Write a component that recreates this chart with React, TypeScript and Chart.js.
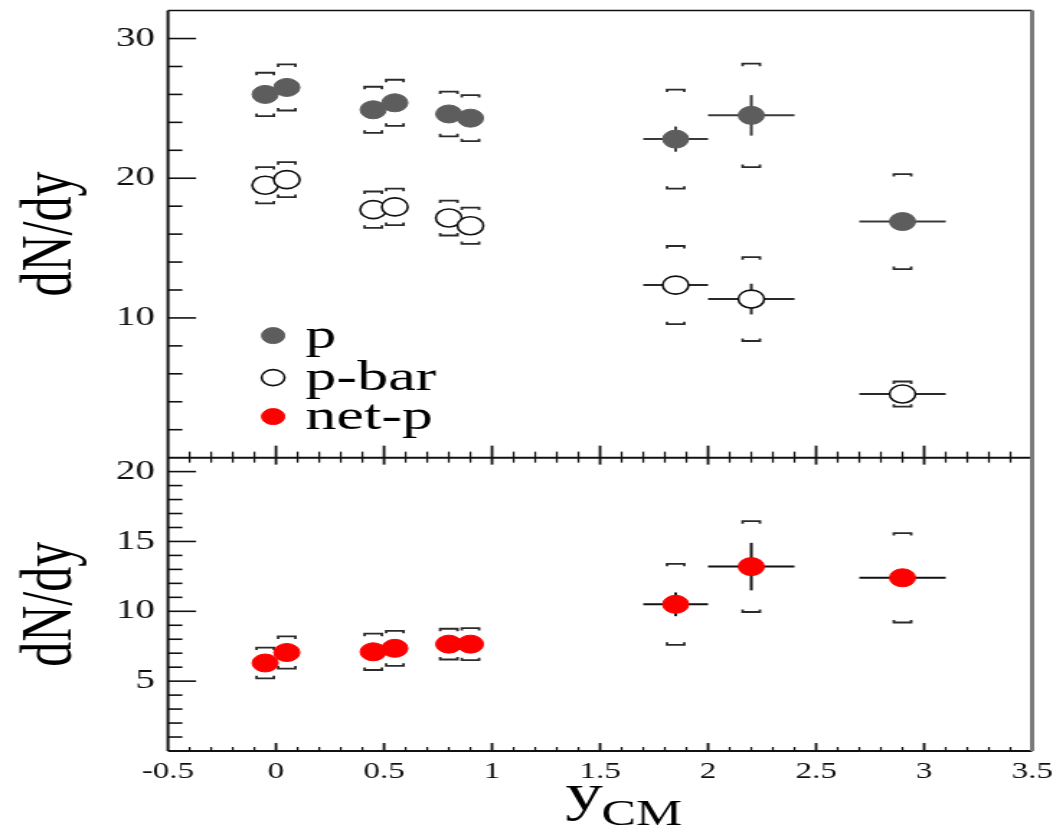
import React, { useEffect, useRef } from 'react';
import { Chart, registerables } from 'chart.js';

Chart.register(...registerables);

// Rapidity bins (centre and half width of the bin)
const rapidity = [-0.05, 0.05, 0.45, 0.55, 0.8, 0.9, 1.85, 2.2, 2.9];
const rapidityHalfWidth = [0, 0, 0, 0, 0, 0, 0.15, 0.2, 0.2];

// Protons
const protonYield = [26.0, 26.5, 24.9, 25.4, 24.6, 24.3, 22.8, 24.5, 16.9];
const protonStat = [0, 0, 0, 0, 0, 0, 0.9, 1.45, 0];
const protonSys = [1.55, 1.65, 1.65, 1.65, 1.6, 1.65, 3.55, 3.7, 3.4];

// Antiprotons
const antiProtonYield = [19.5, 19.9, 17.75, 17.95, 17.15, 16.6, 12.35, 11.35, 4.55];
const antiProtonStat = [0, 0, 0, 0, 0, 0, 0, 1.1, 0];
const antiProtonSys = [1.3, 1.25, 1.3, 1.3, 1.25, 1.3, 2.8, 3.0, 0.9];

// Net protons
const netProtonYield = [6.3, 7.05, 7.1, 7.35, 7.65, 7.65, 10.5, 13.2, 12.4];
const netProtonStat = [0, 0, 0, 0, 0, 0, 0.85, 1.7, 0];
const netProtonSys = [1.1, 1.15, 1.3, 1.25, 1.1, 1.15, 2.9, 3.25, 3.2];

const legendLabels = ['p', 'p-bar', 'net-p'];
const yTitle = 'dN/dy';
const xTitleMain = 'y';
const xTitleSub = 'CM';

// Canvas is drawn narrow and widened horizontally
const PAGE_W = 1053;
const PAGE_H = 829;
const STRETCH = 1.4405;
const CANVAS_W = Math.round(PAGE_W / STRETCH);

const SERIF = '"Liberation Serif", "Times New Roman", serif';

type Series = {
  label: string;
  axis: 'yTop' | 'yBot';
  values: number[];
  stat: number[];
  sys: number[];
  face: string;
  edge: string;
  edgeWidth: number;
  bar: string;
};

const seriesList: Series[] = [
  { label: legendLabels[0], axis: 'yTop', values: protonYield, stat: protonStat, sys: protonSys, face: '#5d5d5d', edge: '#5d5d5d', edgeWidth: 1, bar: '#3a3a3a' },
  { label: legendLabels[1], axis: 'yTop', values: antiProtonYield, stat: antiProtonStat, sys: antiProtonSys, face: '#ffffff', edge: '#111111', edgeWidth: 1.6, bar: '#2a2a2a' },
  { label: legendLabels[2], axis: 'yBot', values: netProtonYield, stat: netProtonStat, sys: netProtonSys, face: '#ff0000', edge: '#ff0000', edgeWidth: 1, bar: '#111111' },
];

function line(ctx: CanvasRenderingContext2D, x1: number, y1: number, x2: number, y2: number) {
  ctx.beginPath();
  ctx.moveTo(x1, y1);
  ctx.lineTo(x2, y2);
  ctx.stroke();
}

function clearScalePadding(scale: any) {
  scale.paddingTop = 0;
  scale.paddingBottom = 0;
  scale.paddingLeft = 0;
  scale.paddingRight = 0;
}

const panelPlugin = {
  id: 'panelDecor',
  beforeDatasetsDraw(chart: any) {
    const ctx: CanvasRenderingContext2D = chart.ctx;
    const xs = chart.scales.x;
    ctx.save();
    ctx.lineCap = 'butt';
    for (const s of seriesList) {
      const ys = chart.scales[s.axis];
      for (let i = 0; i < rapidity.length; i++) {
        const px = xs.getPixelForValue(rapidity[i]);
        const py = ys.getPixelForValue(s.values[i]);
        ctx.strokeStyle = s.bar;
        ctx.lineWidth = 2;
        // statistical errors and bin widths
        if (rapidityHalfWidth[i] > 0) {
          line(ctx, xs.getPixelForValue(rapidity[i] - rapidityHalfWidth[i]), py,
            xs.getPixelForValue(rapidity[i] + rapidityHalfWidth[i]), py);
        }
        if (s.stat[i] > 0) {
          line(ctx, px, ys.getPixelForValue(s.values[i] + s.stat[i]), px,
            ys.getPixelForValue(s.values[i] - s.stat[i]));
        }
        // systematic error brackets
        const hi = ys.getPixelForValue(s.values[i] + s.sys[i]);
        const lo = ys.getPixelForValue(s.values[i] - s.sys[i]);
        const hw = 6;
        const e = 2.5;
        ctx.strokeStyle = '#2b2b2b';
        ctx.lineWidth = 1.8;
        ctx.beginPath();
        ctx.moveTo(px - hw, hi + e);
        ctx.lineTo(px - hw, hi);
        ctx.lineTo(px + hw, hi);
        ctx.lineTo(px + hw, hi + e);
        ctx.moveTo(px - hw, lo - e);
        ctx.lineTo(px - hw, lo);
        ctx.lineTo(px + hw, lo);
        ctx.lineTo(px + hw, lo - e);
        ctx.stroke();
      }
    }
    ctx.restore();
  },
  afterDraw(chart: any) {
    const ctx: CanvasRenderingContext2D = chart.ctx;
    const ca = chart.chartArea;
    const xs = chart.scales.x;
    const yT = chart.scales.yTop;
    const yB = chart.scales.yBot;
    const boundary = yT.bottom;
    ctx.save();
    ctx.strokeStyle = '#111';

    // y tick marks, pointing into the panels
    ctx.lineWidth = 1.6;
    const yPanels: [any, number][] = [[yT, 10], [yB, 5]];
    for (const [scale, major] of yPanels) {
      for (const t of scale.ticks) {
        if (t.value <= scale.min || t.value >= scale.max) continue;
        const py = scale.getPixelForValue(t.value);
        const isMajor = Math.abs(t.value / major - Math.round(t.value / major)) < 1e-6;
        line(ctx, ca.left, py, ca.left + (isMajor ? 19.5 : 10), py);
      }
    }

    // x tick marks on the bottom axis and on both sides of the panel boundary
    for (const t of xs.ticks) {
      if (t.value <= xs.min + 1e-6 || t.value >= xs.max - 1e-6) continue;
      const px = xs.getPixelForValue(t.value);
      const isMajor = Math.abs(t.value * 2 - Math.round(t.value * 2)) < 1e-6;
      ctx.lineWidth = isMajor ? 1.8 : 1.3;
      line(ctx, px, ca.bottom, px, ca.bottom - (isMajor ? 8 : 4));
      line(ctx, px, boundary, px, boundary - (isMajor ? 12 : 6));
      line(ctx, px, boundary, px, boundary + (isMajor ? 7 : 5));
    }

    // panel frames
    ctx.strokeStyle = '#111';
    ctx.lineWidth = 2;
    line(ctx, ca.left, ca.top, ca.left, ca.bottom);
    line(ctx, ca.left, boundary, ca.right, boundary);
    line(ctx, ca.left, ca.bottom, ca.right, ca.bottom);
    ctx.lineWidth = 1.5;
    line(ctx, ca.left, ca.top, ca.right, ca.top);
    ctx.strokeStyle = '#7a7a7a';
    ctx.lineWidth = 3;
    line(ctx, ca.right, ca.top, ca.right, ca.bottom);

    // legend
    const rows = [325, 367, 406];
    seriesList.forEach((s, i) => {
      const cy = ca.top + rows[i];
      const cx = ca.left + 73;
      ctx.beginPath();
      ctx.arc(cx, cy, 8, 0, Math.PI * 2);
      ctx.fillStyle = s.face;
      ctx.fill();
      ctx.lineWidth = s.edgeWidth;
      ctx.strokeStyle = s.edge;
      ctx.stroke();
      ctx.fillStyle = '#000';
      ctx.font = `43px ${SERIF}`;
      ctx.textAlign = 'left';
      ctx.textBaseline = 'alphabetic';
      ctx.fillText(s.label, ca.left + 95.5, cy + 12);
    });

    // x axis title with subscript
    const mid = (ca.left + ca.right) / 2;
    ctx.fillStyle = '#000';
    ctx.textAlign = 'left';
    ctx.textBaseline = 'alphabetic';
    ctx.font = `52px ${SERIF}`;
    ctx.fillText(xTitleMain, mid - 24, 810);
    ctx.font = `36px ${SERIF}`;
    ctx.fillText(xTitleSub, mid + 1, 825);
    ctx.restore();
  },
};

function yAxis(min: number, max: number, step: number, labelEvery: number, weight: number) {
  return {
    type: 'linear',
    position: 'left',
    stack: 'panels',
    stackWeight: weight,
    min,
    max,
    afterFit: (scale: any) => {
      scale.width = 116.6;
      clearScalePadding(scale);
    },
    grid: { display: false, drawTicks: false },
    border: { display: false },
    title: {
      display: true,
      text: yTitle,
      color: '#000',
      font: { family: SERIF, size: 50, lineHeight: 1.2 },
      padding: { top: 6, bottom: 0 },
    },
    ticks: {
      stepSize: step,
      autoSkip: false,
      padding: 9,
      color: '#111',
      font: { family: SERIF, size: 27 },
      callback: (v: any) => {
        const n = Number(v);
        return n !== 0 && Math.abs(n / labelEvery - Math.round(n / labelEvery)) < 1e-6 ? String(n) : '';
      },
    },
  };
}

export default function App() {
  const ref = useRef<HTMLCanvasElement>(null);

  useEffect(() => {
    const canvas = ref.current;
    if (!canvas) return;
    const chart = new Chart(canvas, {
      type: 'scatter',
      data: {
        datasets: seriesList.map((s) => ({
          type: 'scatter' as const,
          label: s.label,
          yAxisID: s.axis,
          data: rapidity.map((x, i) => ({ x, y: s.values[i] })),
          pointRadius: 9,
          pointHoverRadius: 9,
          pointBackgroundColor: s.face,
          pointBorderColor: s.edge,
          pointBorderWidth: s.edgeWidth,
          showLine: false,
        })),
      },
      options: {
        responsive: false,
        animation: false,
        devicePixelRatio: 1,
        layout: { padding: { top: 4, right: 14.5, bottom: 0, left: 0 } },
        plugins: {
          legend: { display: false },
          tooltip: { enabled: false },
        },
        scales: {
          yBot: yAxis(0, 21, 1, 5, 21),
          yTop: yAxis(0, 32, 2, 10, 32),
          x: {
            type: 'linear',
            position: 'bottom',
            min: -0.5,
            max: 3.5,
            afterFit: (scale: any) => {
              scale.height = PAGE_H - 751;
              clearScalePadding(scale);
            },
            grid: { display: false, drawTicks: false },
            border: { display: false },
            ticks: {
              stepSize: 0.1,
              autoSkip: false,
              maxRotation: 0,
              minRotation: 0,
              padding: 7,
              color: '#111',
              font: { family: SERIF, size: 23 },
              callback: (v: any) => {
                const n = Number(v);
                const r = Math.round(n * 2) / 2;
                return Math.abs(n - r) < 1e-6 ? String(r) : '';
              },
            },
          },
        },
      } as any,
      plugins: [panelPlugin],
    });
    return () => chart.destroy();
  }, []);

  return (
    <div
      style={{
        position: 'absolute',
        left: 0,
        top: 0,
        width: PAGE_W,
        height: PAGE_H,
        overflow: 'hidden',
        background: '#fff',
      }}
    >
      <canvas
        ref={ref}
        width={CANVAS_W}
        height={PAGE_H}
        style={{
          display: 'block',
          width: CANVAS_W,
          height: PAGE_H,
          transform: `scaleX(${STRETCH})`,
          transformOrigin: '0 0',
        }}
      />
    </div>
  );
}
